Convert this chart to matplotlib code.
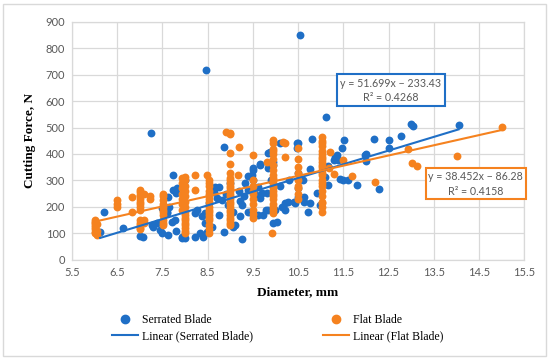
import matplotlib
matplotlib.use("Agg")
import matplotlib.pyplot as plt
from matplotlib.lines import Line2D
from matplotlib.patches import Rectangle
import numpy as np

# Serrated blade: diameter (mm) and cutting force (N)
serrated_d = [6.12, 6.21, 6.62, 7.0, 7.06, 7.25, 7.26, 7.30, 7.37, 7.45, 7.48, 7.48,
              7.6, 7.6, 7.63, 7.63, 7.64, 7.7, 7.74, 7.74, 7.78, 7.81, 7.82, 7.81,
              7.93, 7.93, 7.96, 8.0, 8.0, 8.22, 8.22, 8.26, 8.33, 8.37, 8.4, 8.44,
              8.44, 8.46, 8.48, 8.52, 8.59, 8.59, 8.63, 8.66, 8.7, 8.74, 8.74, 8.81,
              8.85, 8.85, 8.9, 8.96, 9.0, 9.07, 9.07, 9.1, 9.2, 9.22, 9.22, 9.25,
              9.25, 9.3, 9.33, 9.4, 9.4, 9.4, 9.44, 9.48, 9.51, 9.51, 9.51, 9.55,
              9.62, 9.62, 9.66, 9.66, 9.66, 9.7, 9.73, 9.8, 9.81, 9.84, 9.84, 9.84,
              9.88, 9.9, 9.95, 9.95, 9.95, 9.98, 10.03, 10.1, 10.1, 10.14, 10.2, 10.2,
              10.27, 10.3, 10.4, 10.43, 10.47, 10.47, 10.5, 10.5, 10.5, 10.5, 10.54, 10.54,
              10.6, 10.62, 10.62, 10.71, 10.76, 10.77, 10.8, 10.91, 10.99, 11.1, 11.11, 11.17,
              11.17, 11.3, 11.32, 11.36, 11.39, 11.43, 11.47, 11.5, 11.52, 11.6, 11.8, 11.98,
              12.0, 12.0, 12.17, 12.28, 12.5, 12.5, 12.77, 13.0, 13.05, 14.05]
serrated_f = [107, 180, 120, 90, 88, 478, 132, 126, 138, 113, 100, 195,
              182, 176, 239, 94, 200, 145, 264, 321, 151, 254, 270, 111,
              82, 88, 289, 82, 302, 176, 88, 189, 100, 164, 86, 138,
              176, 718, 105, 214, 126, 264, 258, 277, 233, 170, 277, 226,
              107, 428, 250, 208, 290, 126, 182, 132, 260, 164, 224, 78,
              208, 240, 289, 182, 264, 318, 182, 321, 302, 340, 346, 250,
              170, 277, 233, 358, 362, 252, 170, 189, 252, 189, 346, 405,
              409, 300, 141, 358, 371, 189, 145, 440, 280, 201, 189, 214,
              220, 300, 220, 214, 421, 440, 239, 270, 327, 443, 239, 849,
              300, 220, 239, 182, 214, 342, 455, 252, 208, 314, 538, 283,
              355, 377, 390, 396, 377, 304, 421, 302, 453, 302, 283, 396,
              400, 375, 457, 267, 421, 453, 468, 513, 506, 509]

# Flat blade: diameter (mm) and cutting force (N)
flat_d = ([6.0] * 8 + [6.05] * 3 + [6.5] * 3 + [6.82] * 2 + [7.0] * 14 + [7.1] * 3
          + [7.23] * 2 + [7.52] * 11 + [7.93] * 7 + [8.0] * 16 + [8.22] * 2 + [8.48]
          + [8.52] * 17 + [8.9] + [8.99] * 24 + [9.17, 9.2] + [9.51] * 10
          + [9.81, 9.92] + [9.95] * 22 + [10.17, 10.2, 10.2] + [10.5] * 9
          + [11.02] * 23 + [11.18, 11.2, 11.3, 11.5, 11.7, 12.2, 12.94, 13.02,
                            13.13, 14.01, 15.0])
flat_f = ([150, 145, 140, 130, 125, 115, 105, 100] + [135, 110, 95] + [225, 210, 200]
          + [237, 180]
          + [265, 255, 245, 240, 230, 220, 210, 200, 190, 150, 140, 130, 120, 115]
          + [250, 150, 140] + [240, 230]
          + [250, 240, 225, 210, 200, 190, 180, 170, 150, 140, 130]
          + [310, 290, 270, 250, 230, 210, 190]
          + [314, 300, 280, 260, 240, 220, 200, 180, 170, 160, 150, 140, 130, 120, 110, 100]
          + [321, 265] + [321]
          + [300, 290, 280, 260, 250, 240, 230, 220, 200, 190, 180, 170, 160, 150, 130, 115, 100]
          + [484]
          + [480, 476, 405, 361, 330, 310, 300, 290, 280, 270, 260, 250, 240, 230,
             220, 210, 200, 190, 180, 170, 160, 150, 140, 130]
          + [321, 428] + [396, 300, 280, 260, 250, 230, 210, 190, 175, 160]
          + [368, 100]
          + [453, 440, 420, 410, 400, 380, 360, 340, 320, 310, 300, 290, 280, 270,
             260, 250, 240, 230, 210, 200, 190, 176]
          + [446, 390, 443] + [421, 380, 352, 330, 300, 280, 270, 250, 230]
          + [465, 450, 440, 430, 410, 400, 390, 380, 370, 360, 352, 340, 330, 320,
             300, 290, 280, 260, 240, 220, 214, 200, 182]
          + [348, 409, 323, 377, 317, 296, 418, 367, 356, 392, 503])

# trendline coefficients as printed on the chart
serrated_fit = (51.699, -233.43, 0.4268)
flat_fit = (38.452, -86.28, 0.4158)

x_ticks = [5.5, 6.5, 7.5, 8.5, 9.5, 10.5, 11.5, 12.5, 13.5, 14.5, 15.5]
y_ticks = [0, 100, 200, 300, 400, 500, 600, 700, 800, 900]

BLUE = "#1f6fc6"
ORANGE = "#f5821f"
GREY = "#595959"
GRID = "#d9d9d9"

fig = plt.figure(figsize=(5.5, 3.6), dpi=100)
ax = fig.add_axes([0.131, 0.278, 0.822, 0.662])

ax.scatter(serrated_d, serrated_f, s=32, color=BLUE, zorder=3, linewidths=0)
ax.scatter(flat_d, flat_f, s=32, color=ORANGE, zorder=3, linewidths=0)

for d, fit, col in [(serrated_d, serrated_fit, BLUE), (flat_d, flat_fit, ORANGE)]:
    xs = np.array([min(d), max(d)])
    ax.plot(xs, fit[0] * xs + fit[1], color=col, lw=1.5, zorder=4)

ax.set_xlim(5.5, 15.5)
ax.set_ylim(0, 900)
ax.set_xticks(x_ticks)
ax.set_yticks(y_ticks)
ax.set_xticklabels([f"{t:g}" for t in x_ticks])
ax.grid(True, color=GRID, lw=0.9, zorder=0)
ax.set_axisbelow(True)
for sp in ax.spines.values():
    sp.set_color(GRID)
    sp.set_linewidth(0.9)
ax.tick_params(length=0, colors=GREY, labelsize=8, pad=5)
for lab in ax.get_xticklabels() + ax.get_yticklabels():
    lab.set_fontfamily("Lato")

ax.set_xlabel("Diameter, mm", fontfamily="Liberation Serif", fontweight="bold",
              fontsize=9.5, labelpad=6)
ax.set_ylabel("Cutting Force, N", fontfamily="Liberation Serif", fontweight="bold",
              fontsize=9.5, labelpad=7)

def eq_text(fit):
    return f"y = {fit[0]:.3f}x \u2212 {abs(fit[1]):.2f}\nR\u00b2 = {fit[2]:.4f}"

ax.text(12.55, 640, eq_text(serrated_fit), ha="center", va="center", fontsize=7.7,
        color=GREY, family="Lato", linespacing=1.4,
        bbox=dict(boxstyle="square,pad=0.3", fc="white", ec=BLUE, lw=1.5), zorder=5)
ax.text(14.43, 287, eq_text(flat_fit).replace(".280", ".28"), ha="center", va="center",
        fontsize=7.7, color=GREY, family="Lato", linespacing=1.4,
        bbox=dict(boxstyle="square,pad=0.25", fc="white", ec=ORANGE, lw=1.5), zorder=5)

handles = [
    Line2D([], [], marker="o", ls="none", color=BLUE, markersize=6),
    Line2D([], [], color=BLUE, lw=1.5),
    Line2D([], [], marker="o", ls="none", color=ORANGE, markersize=6),
    Line2D([], [], color=ORANGE, lw=1.5),
]
labels = ["Serrated Blade", "Linear (Serrated Blade)", "Flat Blade", "Linear (Flat Blade)"]
fig.legend(handles, labels, ncol=2, loc="center", bbox_to_anchor=(0.505, 0.088),
           frameon=False, prop={"family": "Liberation Serif", "size": 8.5},
           columnspacing=6.0, handlelength=2.2, handletextpad=0.3, labelspacing=0.35)

fig.patches.append(Rectangle((0.006, 0.012), 0.986, 0.978, transform=fig.transFigure,
                             fill=False, ec=GRID, lw=1.0))

fig.savefig("out.png", dpi=100)
